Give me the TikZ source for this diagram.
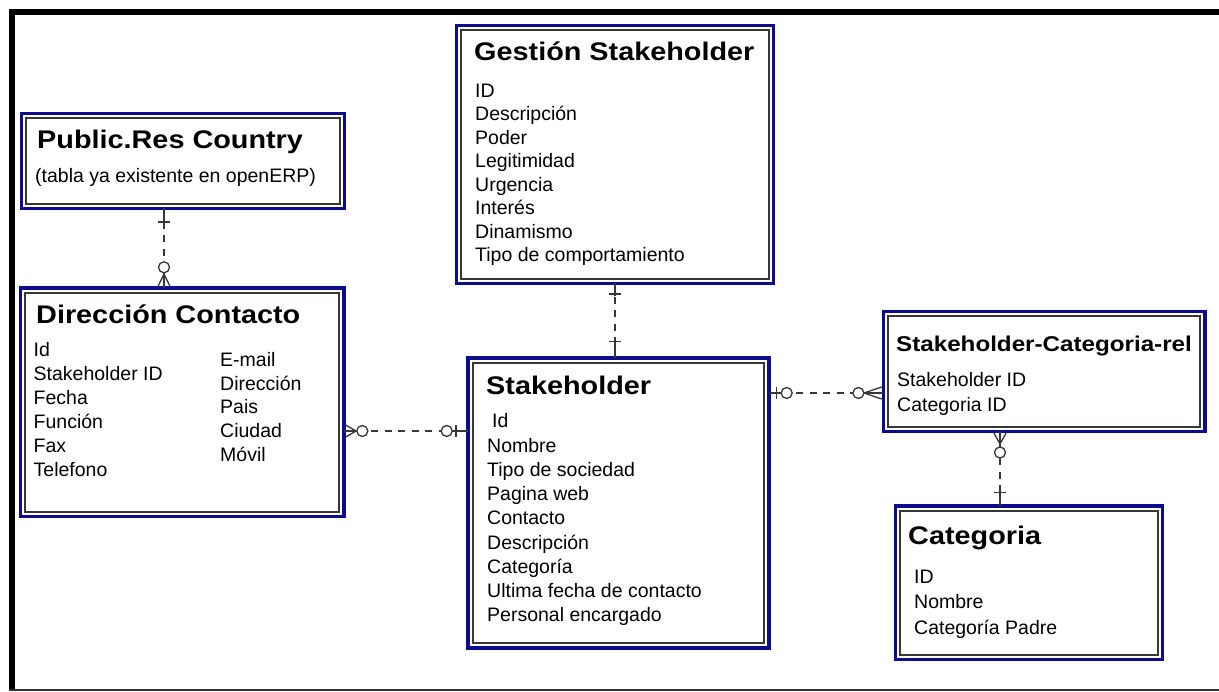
\documentclass[tikz,border=0pt]{standalone}
\usepackage{fontspec}
\setmainfont{Liberation Sans}
\newfontfamily\headfont[FakeStretch=1.13]{Liberation Sans}
\usetikzlibrary{calc}

\definecolor{erblue}{RGB}{12,12,140}
\definecolor{erline}{RGB}{55,55,55}

\tikzset{
  entity/.style={draw=erblue, line width=3.4pt, rectangle, inner sep=0pt,
    outer sep=0pt, anchor=north west},
  innerframe/.style={draw=erline, line width=1.9pt},
  head/.style={anchor=base west, inner sep=0pt,
    font=\headfont\bfseries\fontsize{25.5}{30}\selectfont},
  subhead/.style={anchor=base west, inner sep=0pt,
    font=\headfont\bfseries\fontsize{21.4}{26}\selectfont},
  attr/.style={anchor=base west, inner sep=0pt,
    font=\fontsize{19.5}{24}\selectfont},
  sym/.style={draw=erline, line width=1.3pt},
  link/.style={draw=erline, line width=1.3pt, dash pattern=on 7pt off 6.5pt},
  % exactly one: a single bar across the line
  pics/tick/.style={code={
    \draw[sym] (0,0) -- (#1+2,0);
    \draw[sym] (#1,-6) -- (#1,6);
  }},
  % zero or one: bar next to the entity, circle further out
  pics/barO/.style args={#1/#2}{code={
    \draw[sym] (0,0) -- (#2,0);
    \draw[sym] (#1,-6) -- (#1,6);
    \draw[sym, fill=white] (#2,0) circle[radius=5.5pt];
  }},
  % zero or many: crow's foot at the entity, circle further out
  pics/crowO/.style args={#1/#2}{code={
    \draw[sym] (1.7,-6) -- (#1,0) -- (1.7,6);
    \draw[sym] (0,0) -- (#2,0);
    \draw[sym, fill=white] (#2,0) circle[radius=5.5pt];
  }},
}

\begin{document}
\begin{tikzpicture}[x=1pt, y=-1pt]
\useasboundingbox (0,0) rectangle (1219,692);
\fill[white] (0,0) rectangle (1219,692);

% outer frame
\fill[black] (9,9) rectangle (14.5,690.7);
\fill[black] (9,9) rectangle (1219,15);
\fill[black!80] (9,688.7) rectangle (1219,690.5);

% entities
\node[entity, minimum width=323pt,   minimum height=95pt]    (pub)  at (21.5,113.5) {};
\node[entity, minimum width=323.5pt, minimum height=228.5pt] (dir)  at (20.5,288) {};
\node[entity, minimum width=317pt,   minimum height=258pt]   (gest) at (456.5,25.5) {};
\node[entity, minimum width=301pt,   minimum height=290pt]   (stk)  at (468,358) {};
\node[entity, minimum width=321.6pt, minimum height=120pt]   (rel)  at (883.4,311.5) {};
\node[entity, minimum width=267pt,   minimum height=153.5pt] (cat)  at (895.5,506) {};

\foreach \n in {pub,dir,gest,stk,rel,cat}
  \draw[innerframe] ([shift={(4.8pt,4.8pt)}]\n.south west)
    rectangle ([shift={(-4.8pt,-4.8pt)}]\n.north east);

% Public.Res Country
\node[head] (pub-title) at (37,149) {Public.Res Country};
\node[attr] (pub-note) at (35,183) {(tabla ya existente en openERP)};

% Gestión Stakeholder
\node[head] (gest-title) at (474,61) {Gestión Stakeholder};
\foreach [count=\i from 0] \t in {ID,Descripción,Poder,Legitimidad,Urgencia,Interés,Dinamismo,Tipo de comportamiento}
  \node[attr] (gest-\i) at (475,{97.3+23.5*\i}) {\t};

% Dirección Contacto
\node[head] (dir-title) at (36,324) {Dirección Contacto};
\foreach [count=\i from 0] \t in {Id,Stakeholder ID,Fecha,Función,Fax,Telefono}
  \node[attr] (dir-l\i) at (33.5,{356.5+24*\i}) {\t};
\foreach [count=\i from 0] \t in {E-mail,Dirección,Pais,Ciudad,Móvil}
  \node[attr] (dir-r\i) at (220,{366.5+23.7*\i}) {\t};

% Stakeholder
\node[head] (stk-title) at (486,395) {Stakeholder};
\node[attr] (stk-0) at (492,428) {Id};
\foreach [count=\i from 1] \t in {Nombre,Tipo de sociedad,Pagina web,Contacto,Descripción,Categoría,Ultima fecha de contacto,Personal encargado}
  \node[attr] (stk-\i) at (487,{428+24.2*\i}) {\t};

% Stakeholder-Categoria-rel
\node[subhead] (rel-title) at (896,352) {Stakeholder-Categoria-rel};
\node[attr] (rel-0) at (897,387) {Stakeholder ID};
\node[attr] (rel-1) at (897,412) {Categoria ID};

% Categoria
\node[head] (cat-title) at (908,544) {Categoria};
\foreach [count=\i from 0] \t in {ID,Nombre,Categoría Padre}
  \node[attr] (cat-\i) at (914,{583+25.5*\i}) {\t};

% relationship lines
\coordinate (k1) at (164,0);
\coordinate (k2) at (0,431);
\coordinate (k3) at (615,0);
\coordinate (k4) at (0,393);
\coordinate (k5) at (1000,0);

\draw[link] (pub.south -| k1) -- (dir.north -| k1);
\pic[rotate=-90] at (pub.south -| k1) {tick=13.5};
\pic[rotate=90]  at (dir.north -| k1) {crowO=14/20.7};

\draw[link] (dir.east |- k2) -- (stk.west |- k2);
\pic[rotate=0]   at (dir.east |- k2) {crowO=12/18.3};
\pic[rotate=180] at (stk.west |- k2) {barO=12/21.3};

\draw[link] (gest.south -| k3) -- (stk.north -| k3);
\pic[rotate=-90] at (gest.south -| k3) {tick=10.5};
\pic[rotate=90]  at (stk.north -| k3) {tick=16.3};

\draw[link] (stk.east |- k4) -- (rel.west |- k4);
\pic[rotate=0]   at (stk.east |- k4) {barO=7.7/17.7};
\pic[rotate=180] at (rel.west |- k4) {crowO=19.5/25};

\draw[link] (rel.south -| k5) -- (cat.north -| k5);
\pic[rotate=-90] at (rel.south -| k5) {crowO=12.5/21};
\pic[rotate=90]  at (cat.north -| k5) {tick=13.3};
\end{tikzpicture}
\end{document}
